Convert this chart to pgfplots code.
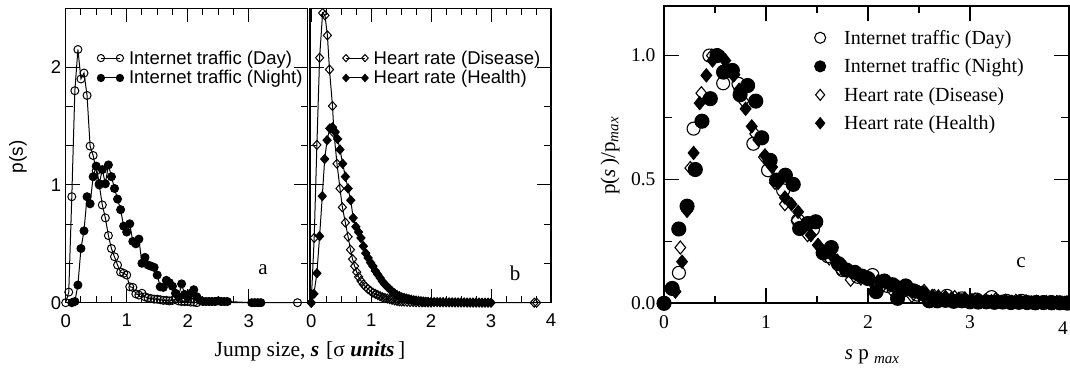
\documentclass[border=0pt]{standalone}
\usepackage{fontspec}
\setmainfont{Liberation Serif}
\newfontfamily\hv{Liberation Sans}
\usepackage{pgfplots}
\pgfplotsset{compat=1.18}
\begin{document}
\begin{tikzpicture}[x=1pt,y=1pt]
\useasboundingbox (0,0) rectangle (1070,369);
\pgfplotsset{
  abstyle/.style={
    scale only axis, height=294.4pt,
    ymin=0, ymax=2.5, ytick={0,1,2}, minor y tick num=2,
    minor x tick num=3,
    major tick length=14pt, minor tick length=7pt,
    axis line style={line width=1.3pt},
    tick style={line width=1pt, black},
    tick label style={font=\hv\fontsize{18.5}{18.5}\selectfont},
    xticklabel style={yshift=-8pt},
    yticklabel style={xshift=-1pt},
    /pgf/number format/assume math mode=true,
    clip=false,
    every axis plot/.append style={line width=1pt, black},
    legend cell align=left,
    legend image code/.code={\draw[##1, mark size=3.6pt] plot coordinates {(0pt,0pt) (19pt,0pt)};},
    legend style={draw=none, fill=none, inner sep=0pt, row sep=2pt,
      font=\hv\fontsize{18.5}{18.5}\selectfont, anchor=north west,
      nodes={inner sep=1.5pt},
      /tikz/every odd column/.style={column sep=4pt}},
  },
}
% ---------------- panel a
\begin{axis}[abstyle, at={(65.7pt,66.3pt)}, anchor=south west, width=241.8pt,
  xmin=0, xmax=3.964, xtick={0,1,2,3},
  legend style={at={(0.13,0.862)}}]
\addplot[mark=o, mark size=4pt, mark options={fill=white}] coordinates {
(0,0) (0.05,0.09) (0.10,0.90) (0.15,1.80) (0.20,2.15) (0.25,1.90) (0.30,1.95)
(0.35,1.76) (0.40,1.33) (0.45,1.25) (0.50,1.12) (0.55,1.00) (0.60,0.83) (0.65,0.72)
(0.70,0.57) (0.75,0.46) (0.80,0.39) (0.85,0.32) (0.90,0.26) (0.95,0.25) (1.00,0.235)
(1.05,0.135) (1.10,0.13) (1.15,0.075) (1.20,0.065) (1.25,0.08) (1.30,0.05) (1.35,0.04)
(1.40,0.035) (1.45,0.03) (1.50,0.03) (1.55,0.025) (1.60,0.02) (1.65,0.02) (1.70,0.015)
(1.75,0.02) (1.80,0.03) (1.85,0.015) (1.90,0.01) (1.95,0.01) (2.00,0.01) (2.05,0.005)
(2.10,0.005) (2.15,0) (3.80,0)};
\addlegendentry{Internet traffic (Day)}
\addplot[mark=*, mark size=4pt] coordinates {
(0.10,0) (0.15,0.01) (0.20,0.15) (0.25,0.46) (0.30,0.61) (0.35,0.90) (0.40,0.84)
(0.45,1.07) (0.50,1.16) (0.55,1.01) (0.60,1.13) (0.65,1.01) (0.70,1.17) (0.75,1.07)
(0.80,0.97) (0.85,0.88) (0.90,0.79) (0.95,0.65) (1.00,0.60) (1.05,0.67) (1.10,0.52)
(1.15,0.50) (1.20,0.54) (1.25,0.335) (1.30,0.385) (1.35,0.32) (1.40,0.31) (1.45,0.30)
(1.50,0.235) (1.55,0.135) (1.60,0.13) (1.65,0.19) (1.70,0.17) (1.75,0.14) (1.80,0.08)
(1.85,0.05) (1.90,0.16) (1.95,0.07) (2.00,0.05) (2.05,0.08) (2.10,0.11) (2.15,0.05)
(2.20,0.02) (2.25,0.01) (2.30,0.01) (2.35,0.01) (2.40,0.01) (2.45,0.01) (2.50,0.015)
(2.55,0.01) (2.60,0.01) (2.65,0.01) (3.05,0) (3.10,0) (3.15,0) (3.20,0)};
\addlegendentry{Internet traffic (Night)}
\end{axis}
% ---------------- panel b
\begin{axis}[abstyle, at={(310pt,66.3pt)}, anchor=south west, width=241pt,
  xmin=-0.02, xmax=4.0, xtick={0,1,2,3,4}, yticklabels={},
  legend style={at={(0.135,0.862)}}]
\addplot[mark=diamond, mark size=4.5pt, mark options={fill=white, xscale=1.2}] coordinates {
(0,0) (0.05,0.55) (0.095,1.34) (0.14,2.08) (0.19,2.46) (0.23,2.44) (0.27,2.27)
(0.305,1.98) (0.355,1.67) (0.38,1.44) (0.43,1.18) (0.48,0.97) (0.52,0.81) (0.57,0.68)
(0.615,0.56) (0.655,0.45) (0.69,0.37) (0.725,0.31) (0.76,0.26) (0.79,0.22) (0.83,0.185)
(0.87,0.155) (0.91,0.135) (0.95,0.115) (0.99,0.10) (1.03,0.085) (1.07,0.075) (1.11,0.065)
(1.15,0.055) (1.19,0.045) (1.23,0.04) (1.27,0.035) (1.31,0.03) (1.35,0.025) (1.39,0.02)
(1.43,0.015) (1.47,0.012) (1.51,0.01) (1.55,0.01) (1.60,0.008) (1.65,0.006) (1.70,0.005)
(1.75,0.004) (1.80,0.004) (1.85,0.003) (1.90,0.003) (1.95,0.002) (2.00,0.002)
(3.72,0) (3.76,0)};
\addlegendentry{Heart rate (Disease)}
\addplot[mark=diamond*, mark size=4.5pt, mark options={xscale=1.2}] coordinates {
(0,0) (0.045,0.075) (0.095,0.25) (0.14,0.565) (0.185,0.905) (0.225,1.22) (0.265,1.38)
(0.31,1.48) (0.355,1.49) (0.40,1.45) (0.44,1.39) (0.48,1.30) (0.525,1.18) (0.57,1.07)
(0.615,0.97) (0.66,0.87) (0.70,0.72) (0.745,0.645) (0.79,0.60) (0.83,0.55) (0.87,0.48)
(0.91,0.42) (0.95,0.38) (0.99,0.34) (1.03,0.31) (1.07,0.27) (1.11,0.24) (1.15,0.21)
(1.19,0.18) (1.23,0.155) (1.27,0.135) (1.31,0.115) (1.35,0.095) (1.39,0.08) (1.43,0.065)
(1.47,0.055) (1.51,0.045) (1.55,0.04) (1.59,0.035) (1.63,0.03) (1.67,0.025) (1.71,0.02)
(1.75,0.018) (1.79,0.015) (1.83,0.012) (1.87,0.01) (1.91,0.008) (1.95,0.007)
(2.00,0.006) (2.05,0.005) (2.10,0.005) (2.15,0.004) (2.20,0.004) (2.25,0.003) (2.30,0.003)
(2.35,0.003) (2.40,0.002) (2.45,0.002) (2.50,0.002) (2.55,0.002) (2.60,0.001) (2.65,0.001)
(2.70,0.001) (2.75,0.001) (2.80,0.001) (2.85,0) (2.90,0) (2.95,0) (3.00,0)};
\addlegendentry{Heart rate (Health)}
\end{axis}
% ---------------- panel c
\begin{axis}[scale only axis, at={(664pt,65.7pt)}, anchor=south west,
  width=404.5pt, height=297.3pt,
  xmin=0, xmax=3.966, ymin=0, ymax=1.2,
  xtick={0,1,2,3}, minor x tick num=1,
  ytick={0,0.5,1}, yticklabels={0.0,0.5,1.0}, minor y tick num=1,
  major tick length=15pt, minor tick length=7.5pt,
  axis line style={line width=2pt},
  tick style={line width=1.2pt, black},
  tick label style={font=\fontsize{19.5}{19.5}\selectfont},
  xticklabel style={yshift=-9pt},
  yticklabel style={xshift=-5pt},
  /pgf/number format/assume math mode=true,
  clip=false,
  every axis plot/.append style={line width=1.1pt, black, only marks},
  legend cell align=left,
  legend image code/.code={\draw[#1, mark size=5.5pt] plot coordinates {(0pt,0pt)};},
  legend style={draw=none, fill=none, inner sep=0pt, row sep=10pt,
    font=\fontsize{20}{20}\selectfont, anchor=north west,
    nodes={inner sep=1.5pt}, at={(0.372,0.925)},
    /tikz/every odd column/.style={column sep=17pt}},
]
\addplot[mark=o, mark size=6.5pt, mark options={fill=white}] coordinates {
(0,0) (0.146,0.123) (0.29,0.705) (0.445,1.0) (0.58,0.888) (0.73,0.886) (0.876,0.644)
(1.02,0.537) (1.168,0.456) (1.314,0.335) (1.46,0.298) (1.606,0.19) (1.752,0.134)
(1.898,0.107) (2.044,0.114) (2.19,0.07) (2.336,0.05) (2.482,0.035) (2.628,0.02)
(2.774,0.03) (2.92,0.02) (3.066,0.015) (3.212,0.025) (3.358,0.01) (3.504,0.01)
(3.65,0.005) (3.796,0.005) (3.942,0)};
\addlegendentry{Internet traffic (Day)}
\addplot[mark=*, mark size=7pt] coordinates {
(0,0) (0.08,0.06) (0.145,0.30) (0.226,0.392) (0.307,0.54) (0.372,0.735) (0.454,0.826)
(0.52,1.0) (0.584,0.933) (0.67,0.94) (0.746,0.842) (0.82,0.879) (0.90,0.816) (0.958,0.668)
(1.04,0.577) (1.104,0.497) (1.19,0.517) (1.267,0.48) (1.33,0.302) (1.41,0.322) (1.488,0.329)
(1.56,0.204) (1.64,0.225) (1.71,0.16) (1.79,0.134) (1.87,0.125) (1.94,0.11) (2.00,0.10)
(2.08,0.047) (2.16,0.09) (2.24,0.075) (2.29,0.02) (2.37,0.07) (2.45,0.05) (2.53,0.04)
(2.60,0.01) (2.68,0.01) (2.76,0.012) (2.84,0.008) (2.92,0.01) (3.0,0.006) (3.08,0.005)
(3.16,0.006) (3.24,0.004) (3.32,0.005) (3.40,0.003) (3.48,0.004) (3.56,0.003) (3.64,0.002)
(3.72,0.003) (3.80,0.002) (3.88,0.002) (3.96,0.001)};
\addlegendentry{Internet traffic (Night)}
\addplot[mark=diamond, mark size=6.5pt, mark options={fill=white, xscale=1.1}] coordinates {
(0.16,0.225) (0.258,0.546) (0.366,0.848) (0.47,1.0) (0.58,0.99) (0.69,0.923) (0.78,0.816)
(0.893,0.684) (0.98,0.59) (1.088,0.486) (1.185,0.40) (1.30,0.335) (1.407,0.275) (1.51,0.235)
(1.62,0.181) (1.72,0.14) (1.83,0.095) (1.93,0.10) (2.03,0.09) (2.13,0.065) (2.24,0.05)
(2.33,0.04) (2.43,0.03) (2.55,0.05) (2.65,0.03) (2.75,0.02) (2.85,0.025) (2.95,0.02)
(3.05,0.015) (3.15,0.012) (3.25,0.015) (3.35,0.01) (3.45,0.01) (3.55,0.008) (3.65,0.006)
(3.75,0.005) (3.85,0.005) (3.95,0.003)};
\addlegendentry{Heart rate (Disease)}
\addplot[mark=diamond*, mark size=6.5pt, mark options={xscale=1.1}] coordinates {
(0.112,0.047) (0.177,0.168) (0.226,0.373) (0.29,0.607) (0.35,0.808) (0.415,0.92)
(0.476,0.98) (0.535,1.0) (0.60,0.98) (0.68,0.92) (0.737,0.862) (0.80,0.785) (0.86,0.714)
(0.925,0.66) (0.99,0.597) (1.06,0.55) (1.12,0.486) (1.185,0.427) (1.25,0.40) (1.315,0.369)
(1.38,0.31) (1.44,0.275) (1.51,0.235) (1.575,0.202) (1.64,0.195) (1.70,0.172) (1.77,0.148)
(1.83,0.128) (1.90,0.12) (1.96,0.107) (2.03,0.097) (2.10,0.09) (2.17,0.085) (2.24,0.072)
(2.30,0.066) (2.37,0.055) (2.43,0.05) (2.50,0.045) (2.56,0.035) (2.63,0.03) (2.69,0.028)
(2.76,0.025) (2.82,0.02) (2.89,0.018) (2.95,0.015) (3.02,0.013) (3.08,0.012) (3.15,0.01)
(3.21,0.009) (3.28,0.008) (3.34,0.007) (3.41,0.006) (3.47,0.005) (3.54,0.005) (3.60,0.004)
(3.67,0.004) (3.73,0.003) (3.80,0.003) (3.86,0.002) (3.93,0.002) (3.99,0.002)};
\addlegendentry{Heart rate (Health)}
\end{axis}
% ---------------- labels
\node[rotate=90, font=\hv\fontsize{19}{19}\selectfont] at (18,212) {p(s)};
\node[font=\fontsize{21.5}{21.5}\selectfont] at (310,18) {Jump size, \textbf{\textit{s}}\hspace{7pt}[σ \textbf{\textit{units}}\,]};
\node[font=\fontsize{21}{21}\selectfont] at (263,99) {a};
\node[font=\fontsize{21}{21}\selectfont] at (515,96) {b};
\node[font=\fontsize{21}{21}\selectfont] at (1021,106) {c};
\node[font=\fontsize{19.5}{19.5}\selectfont] at (1063,41) {4};
\node[rotate=90, font=\fontsize{21}{21}\selectfont] at (610,213) {p(\textit{s}\,)/p\raisebox{-0.35ex}{\fontsize{15}{15}\selectfont\itshape max}};
\node[font=\fontsize{21}{21}\selectfont] at (872,12) {\textit{s} p \raisebox{-0.35ex}{\fontsize{15}{15}\selectfont\itshape max}};
\end{tikzpicture}
\end{document}
